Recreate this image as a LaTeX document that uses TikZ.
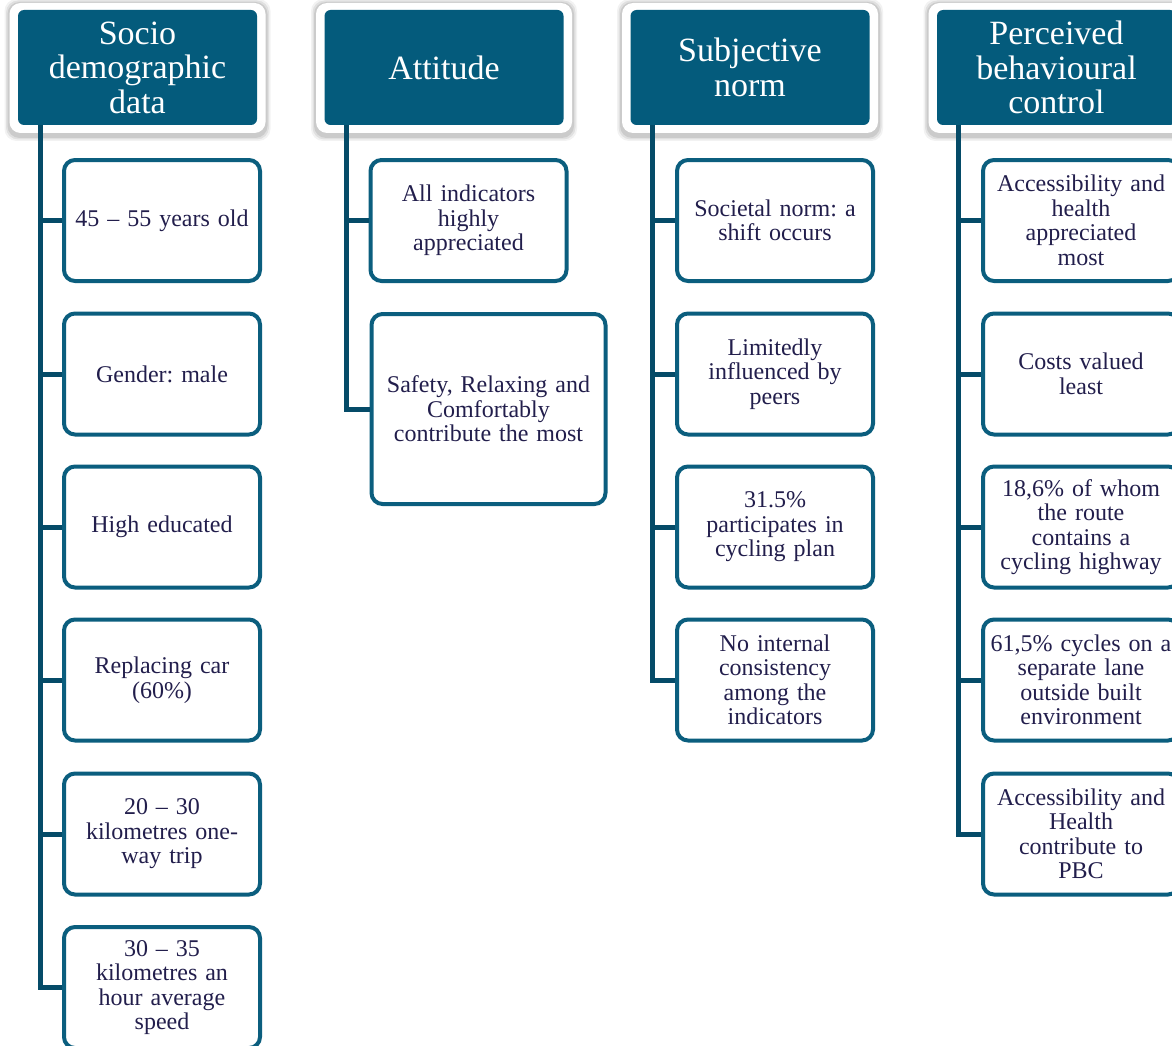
\documentclass[tikz,border=0pt]{standalone}
\usepackage{fontspec}
\setmainfont{Liberation Serif}
\frenchspacing
\definecolor{headfill}{HTML}{045B7C}
\definecolor{boxline}{HTML}{0B5E7E}
\definecolor{connline}{HTML}{054B68}
\definecolor{txt}{HTML}{221E4C}
\tikzset{
  x=1pt, y=-1pt,
  head/.style={fill=headfill, draw=none, rounded corners=6pt, minimum width=239pt, minimum height=115pt,
    text=white, align=center, font=\fontsize{34}{34.5}\selectfont, inner sep=0pt},
  child/.style={draw=boxline, line width=4pt, fill=white, rounded corners=11pt, minimum width=194pt, minimum height=121pt,
    text=txt, align=center, font=\fontsize{24}{24.5}\selectfont, inner sep=2pt, text width=192pt},
  conn/.style={draw=connline, line width=5pt},
}
\newcommand{\headerbox}[3]{%
  \foreach \g/\o in {5/0.05,3.5/0.07,2/0.09}{
    \fill[black, opacity=\o, rounded corners=12pt] (#2-128-\g,4-\g) rectangle (#2+128+\g,136+\g);
  }
  \fill[white, rounded corners=11pt] (#2-128,3) rectangle (#2+128,133);
  \node[head] (#1) at (#2,67.5) {#3};
}
\begin{document}
\begin{tikzpicture}
\useasboundingbox (0,0) rectangle (1172,1046);
\clip (0,0) rectangle (1172,1046);
\fill[white] (0,0) rectangle (1172,1046);

\headerbox{h1}{137.5}{Socio\\demographic\\data}
\headerbox{h2}{444}{Attitude}
\headerbox{h3}{750}{Subjective\\norm}
\headerbox{h4}{1056.5}{Perceived\\behavioural\\control}

% column 1
\coordinate (t1) at (40,125);
\node[child] (a1) at (162,220.5) {45 -- 55 years old};
\node[child] (a2) at (162,374) {Gender: male};
\node[child] (a3) at (162,527) {High educated};
\node[child] (a4) at (162,680) {Replacing car\\(60\%)};
\node[child] (a5) at (162,834) {20 -- 30\\kilometres one-\\way trip};
\node[child] (a6) at (162,987.5) {30 -- 35\\kilometres an\\hour average\\speed};

% column 2
\coordinate (t2) at (346,125);
\node[child] (b1) at (468.5,220.5) {All indicators\\highly\\appreciated};
\node[child, minimum width=233pt, minimum height=190pt, text width=230pt] (b2) at (488.5,409) {Safety, Relaxing and\\Comfortably\\contribute the most};

% column 3
\coordinate (t3) at (652,125);
\node[child] (c1) at (775,220.5) {Societal norm: a\\shift occurs};
\node[child] (c2) at (775,374) {Limitedly\\influenced by\\peers};
\node[child] (c3) at (775,527) {31.5\%\\participates in\\cycling plan};
\node[child] (c4) at (775,680) {No internal\\consistency\\among the\\indicators};

% column 4
\coordinate (t4) at (958,125);
\node[child] (d1) at (1081,220.5) {Accessibility and\\health\\appreciated\\most};
\node[child] (d2) at (1081,374) {Costs valued\\least};
\node[child] (d3) at (1081,527) {18,6\% of whom\\the route\\contains a\\cycling highway};
\node[child] (d4) at (1081,680) {61,5\% cycles on a\\separate lane\\outside built\\environment};
\node[child] (d5) at (1081,834) {Accessibility and\\Health\\contribute to\\PBC};

% connectors
\draw[conn] (t1) |- (a6.west);
\foreach \n in {a1,a2,a3,a4,a5} \draw[conn] (t1 |- \n.west) -- (\n.west);
\draw[conn] (t2) |- (b2.west);
\draw[conn] (t2 |- b1.west) -- (b1.west);
\draw[conn] (t3) |- (c4.west);
\foreach \n in {c1,c2,c3} \draw[conn] (t3 |- \n.west) -- (\n.west);
\draw[conn] (t4) |- (d5.west);
\foreach \n in {d1,d2,d3,d4} \draw[conn] (t4 |- \n.west) -- (\n.west);
\end{tikzpicture}
\end{document}
